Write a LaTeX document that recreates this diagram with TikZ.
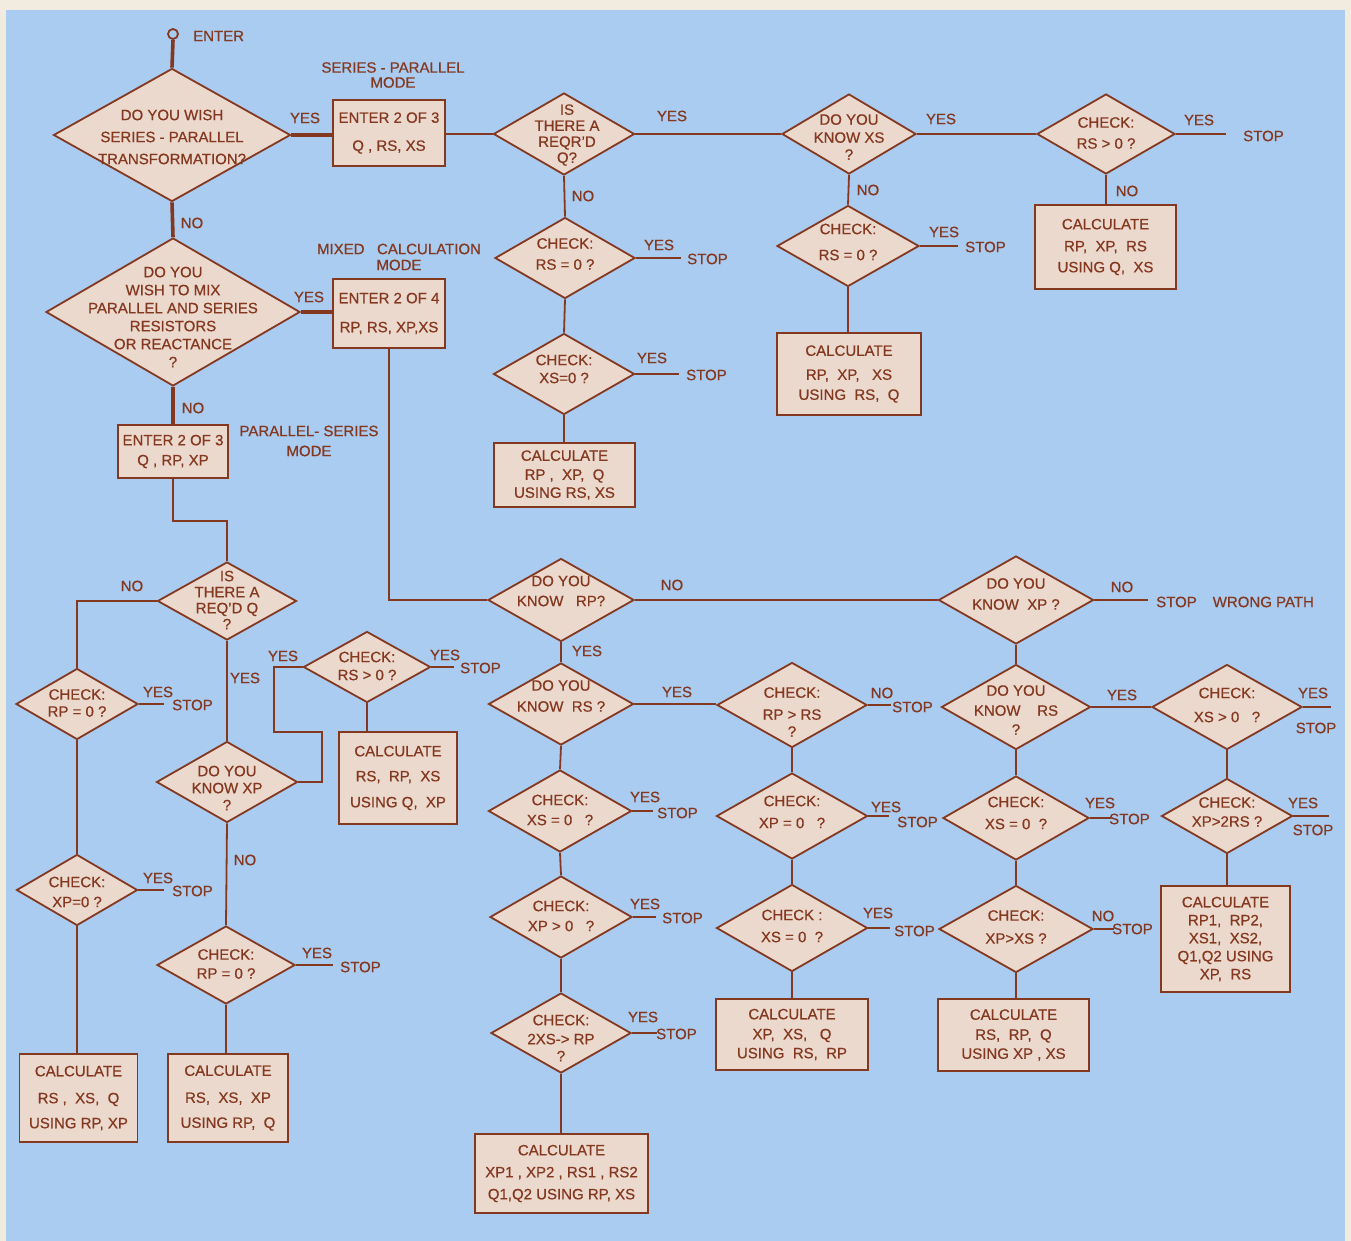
\documentclass[tikz,border=0pt]{standalone}
\usepackage{fontspec}
\setmainfont{Liberation Sans}[FakeBold=0.6]
\usetikzlibrary{shapes.geometric}
\definecolor{brn}{RGB}{132,56,32}
\definecolor{bluebg}{RGB}{170,204,240}
\definecolor{dfill}{RGB}{236,217,205}
\definecolor{paper}{RGB}{242,236,224}
\newcommand\lett{\fontsize{15}{19}\selectfont}
\tikzset{
  dia/.style 2 args={diamond, draw=brn, fill=dfill, line width=1.8pt, inner sep=0pt, minimum width=#1, minimum height=#2},
  dt/.style={text=brn, font=\lett, align=center, inner sep=0pt},
  box/.style 2 args={rectangle, draw=brn, fill=dfill, line width=1.8pt, inner sep=0pt, minimum width=#1, minimum height=#2, align=center, font=\lett, text=brn},
  lab/.style={text=brn, font=\lett, align=center, inner sep=0pt},
  conn/.style={draw=brn, line width=1.8pt},
  mainconn/.style={draw=brn, line width=3.6pt}
}
\begin{document}
\begin{tikzpicture}[x=1pt,y=-1pt]
\useasboundingbox (0,0) rectangle (1351,1241);
\fill[paper] (0,0) rectangle (1351,1241);
\fill[bluebg] (6,10) rectangle (1345,1241);

% ---------- entry ----------
\node[circle, draw=brn, line width=1.8pt, minimum size=10, inner sep=0pt] (c0) at (173,34) {};
\node[lab, anchor=west] (enter) at (193,36) {ENTER};

% ---------- diamonds ----------
\node[dia={237}{133}, label={[dt, yshift=-2pt]center:{DO YOU WISH\\[3pt]SERIES - PARALLEL\\[3pt]TRANSFORMATION?}}] (D1) at (172,135) {};
\node[dia={254}{148}, label={[dt, yshift=-5pt]center:{DO YOU\\[-1pt]WISH TO MIX\\[-1pt]PARALLEL AND SERIES\\[-1pt]RESISTORS\\[-1pt]OR REACTANCE\\[-1pt]?}}] (D8) at (173,312) {};
\node[dia={141}{82}, label={[dt, xshift=3pt, yshift=-1pt]center:{IS\\[-3pt]THERE A\\[-3pt]REQR'D\\[-3pt]Q?}}] (D2) at (564,134) {};
\node[dia={134}{80}, label={[dt, yshift=-3pt]center:{DO YOU\\[-1pt]KNOW XS\\[-2pt]?}}] (D3) at (849,134) {};
\node[dia={138}{80}, label={[dt, yshift=1pt]center:{CHECK:\\[2pt]RS > 0 ?}}] (D4) at (1106,134) {};
\node[dia={142}{81}, label={[dt, yshift=4pt]center:{CHECK:\\[7pt]RS = 0 ?}}] (D5) at (848,246) {};
\node[dia={140}{81}, label={[dt, yshift=4pt]center:{CHECK:\\[2pt]RS = 0 ?}}] (D6) at (565,258) {};
\node[dia={141}{81}, label={[dt, yshift=5pt]center:{CHECK:\\[-1pt]XS=0 ?}}] (D7) at (564,374) {};

\node[dia={139}{78}, label={[dt, yshift=1pt]center:{IS\\[-3pt]THERE A\\[-3pt]REQ'D Q\\[-3pt]?}}] (D10) at (227,601) {};
\node[dia={122}{71}, label={[dt, yshift=1pt]center:{CHECK:\\[-2pt]RP = 0 ?}}] (D11) at (77,704) {};
\node[dia={121}{71}, label={[dt, yshift=-2pt]center:{CHECK:\\[1pt]XP=0 ?}}] (D12) at (77,890) {};
\node[dia={141}{81}, label={[dt, yshift=-6pt]center:{DO YOU\\[-2pt]KNOW XP\\[-2pt]?}}] (D13) at (227,782) {};
\node[dia={127}{71}, label={[dt, yshift=1pt]center:{CHECK:\\[-1pt]RS > 0 ?}}] (D14) at (367,667) {};
\node[dia={138}{78}, label={[dt, yshift=1pt]center:{CHECK:\\[0pt]RP = 0 ?}}] (D15) at (226,965) {};

\node[dia={146}{83}, label={[dt, yshift=9pt]center:{DO YOU\\[1pt]KNOW~~ RP?}}] (D16) at (561,600) {};
\node[dia={145}{82}, label={[dt, yshift=8pt]center:{DO YOU\\[2pt]KNOW~ RS ?}}] (D18) at (561,704) {};
\node[dia={143}{82}, label={[dt, yshift=1pt]center:{CHECK:\\[1pt]XS = 0~~ ?}}] (D22) at (560,811) {};
\node[dia={142}{82}, label={[dt, yshift=1pt]center:{CHECK:\\[1pt]XP > 0~~ ?}}] (D23) at (561,917) {};
\node[dia={140}{80}, label={[dt, yshift=-5pt]center:{CHECK:\\[0pt]2XS-> RP\\[-2pt]?}}] (D24) at (561,1033) {};

\node[dia={150}{85}, label={[dt, yshift=-7pt]center:{CHECK:\\[3pt]RP > RS\\[-2pt]?}}] (D19) at (792,705) {};
\node[dia={151}{86}, label={[dt, yshift=4pt]center:{CHECK:\\[3pt]XP = 0~~ ?}}] (D20) at (792,816) {};
\node[dia={151}{87}, label={[dt, yshift=2pt]center:{CHECK :\\[3pt]XS = 0~ ?}}] (D21) at (792,928) {};

\node[dia={155}{88}, label={[dt, yshift=6pt]center:{DO YOU\\[2pt]KNOW~ XP ?}}] (D17) at (1016,600) {};
\node[dia={149}{85}, label={[dt, yshift=-3pt]center:{DO YOU\\[1pt]KNOW~~~ RS\\[0pt]?}}] (D25) at (1016,707) {};
\node[dia={146}{84}, label={[dt, yshift=5pt]center:{CHECK:\\[3pt]XS = 0~ ?}}] (D28) at (1016,818) {};
\node[dia={154}{87}, label={[dt, yshift=2pt]center:{CHECK:\\[4pt]XP>XS ?}}] (D29) at (1016,929) {};
\node[dia={150}{85}, label={[dt, yshift=2pt]center:{CHECK:\\[5pt]XS > 0~~ ?}}] (D26) at (1227,707) {};
\node[dia={131}{75}, label={[dt, yshift=4pt]center:{CHECK:\\[0pt]XP>2RS ?}}] (D27) at (1227,816) {};

% ---------- boxes ----------
\node[box={112}{66}] (B1) at (389,133) {ENTER 2 OF 3\\[9pt]Q , RS, XS};
\node[box={112}{69}] (B8) at (389,313.5) {ENTER 2 OF 4\\[10pt]RP, RS, XP,XS};
\node[box={110}{53}] (B9) at (173,451.5) {ENTER 2 OF 3\\[1pt]Q , RP, XP};
\node[box={141}{84}] (B4) at (1105.5,247) {CALCULATE\\[3pt]RP,~ XP,~ RS\\[2pt]USING Q,~ XS};
\node[box={144}{82}] (B5) at (849,374) {CALCULATE\\[5pt]RP,~ XP,~~ XS\\[1pt]USING~ RS,~ Q};
\node[box={141}{64}] (B7) at (564.5,475) {CALCULATE\\[0pt]RP ,~ XP,~ Q\\[-1pt]USING RS, XS};
\node[box={118}{88}] (B12) at (78.5,1098) {CALCULATE\\[8pt]RS ,~ XS,~ Q\\[6pt]USING RP, XP};
\node[box={120}{88}] (B15) at (228,1098) {CALCULATE\\[8pt]RS,~ XS,~ XP\\[6pt]USING RP,~ Q};
\node[box={118}{92}] (B14) at (398,778) {CALCULATE\\[6pt]RS,~ RP,~ XS\\[7pt]USING Q,~ XP};
\node[box={152}{71}] (B21) at (792,1034.5) {CALCULATE\\[1pt]XP,~ XS,~~ Q\\[0pt]USING~ RS,~ RP};
\node[box={173}{79}] (B24) at (561.5,1173.5) {CALCULATE\\[3pt]XP1 , XP2 , RS1 , RS2\\[3pt]Q1,Q2 USING RP, XS};
\node[box={129}{106}] (B27) at (1225.5,939) {CALCULATE\\[-1pt]RP1,~ RP2,\\[-1pt]XS1,~ XS2,\\[-1pt]Q1,Q2 USING\\[-1pt]XP,~ RS};
\node[box={151}{72}] (B29) at (1013.5,1035) {CALCULATE\\[1pt]RS,~ RP,~ Q\\[0pt]USING XP , XS};

% ---------- mode labels ----------
\node[lab] (m1) at (393,75) {SERIES - PARALLEL\\[-4pt]MODE};
\node[lab] (m2) at (399,257) {MIXED~~ CALCULATION\\[-3pt]MODE};
\node[lab] (m3) at (309,441) {PARALLEL- SERIES\\[1pt]MODE};

% ---------- YES / NO labels ----------
\node[lab] (y1) at (305,118) {YES};
\node[lab] (n1) at (192,223) {NO};
\node[lab] (y8) at (309,297) {YES};
\node[lab] (n8) at (193,408) {NO};
\node[lab] (y2) at (672,116) {YES};
\node[lab] (n2) at (583,196) {NO};
\node[lab] (y3) at (941,119) {YES};
\node[lab] (n3) at (868,190) {NO};
\node[lab] (y4) at (1199,120) {YES};
\node[lab] (n4) at (1127,191) {NO};
\node[lab] (y5) at (944,232) {YES};
\node[lab] (y6) at (659,245) {YES};
\node[lab] (y7) at (652,358) {YES};
\node[lab] (n10) at (132,586) {NO};
\node[lab] (y10) at (245,678) {YES};
\node[lab] (y13) at (283,656) {YES};
\node[lab] (y14) at (445,655) {YES};
\node[lab] (y11) at (158,692) {YES};
\node[lab] (y12) at (158,878) {YES};
\node[lab] (n13) at (245,860) {NO};
\node[lab] (y15) at (317,953) {YES};
\node[lab] (n16) at (672,585) {NO};
\node[lab] (y16) at (587,651) {YES};
\node[lab] (y18) at (677,692) {YES};
\node[lab] (n19) at (882,693) {NO};
\node[lab] (y20) at (886,807) {YES};
\node[lab] (y21) at (878,913) {YES};
\node[lab] (y22) at (645,797) {YES};
\node[lab] (y23) at (645,904) {YES};
\node[lab] (y24) at (643,1017) {YES};
\node[lab] (n17) at (1122,587) {NO};
\node[lab] (y25) at (1122,695) {YES};
\node[lab] (y26) at (1313,693) {YES};
\node[lab] (y27) at (1303,803) {YES};
\node[lab] (y28) at (1100,803) {YES};
\node[lab] (n29) at (1103,916) {NO};

% ---------- STOP labels ----------
\node[lab, anchor=west] (s4) at (1243,136) {STOP};
\node[lab, anchor=west] (s5) at (965,247) {STOP};
\node[lab, anchor=west] (s6) at (687,259) {STOP};
\node[lab, anchor=west] (s7) at (686,375) {STOP};
\node[lab, anchor=west] (s11) at (172,705) {STOP};
\node[lab, anchor=west] (s12) at (172,891) {STOP};
\node[lab, anchor=west] (s14) at (460,668) {STOP};
\node[lab, anchor=west] (s15) at (340,967) {STOP};
\node[lab, anchor=west] (s19) at (892,707) {STOP};
\node[lab, anchor=west] (s20) at (897,822) {STOP};
\node[lab, anchor=west] (s21) at (894,931) {STOP};
\node[lab, anchor=west] (s22) at (657,813) {STOP};
\node[lab, anchor=west] (s23) at (662,918) {STOP};
\node[lab, anchor=west] (s24) at (656,1034) {STOP};
\node[lab, anchor=west] (s17) at (1156,602) {STOP\hspace{16pt}WRONG PATH};
\node[lab] (s26) at (1316,728) {STOP};
\node[lab] (s27) at (1313,830) {STOP};
\node[lab, anchor=west] (s28) at (1109,819) {STOP};
\node[lab, anchor=west] (s29) at (1112,929) {STOP};

% ---------- corner coordinates ----------
\coordinate (k1) at (173,521);
\coordinate (k2) at (322,732);
\coordinate (k3) at (274,732);

% ---------- main connectors ----------
\draw[mainconn] (c0.south) -- (D1.north);
\draw[mainconn] (D1.east) -- (D1.east -| B1.west);
\draw[mainconn] (D1.south) -- (D8.north);
\draw[mainconn] (D8.east) -- (D8.east -| B8.west);
\draw[mainconn] (D8.south) -- (D8.south |- B9.north);

% ---------- series-parallel branch ----------
\draw[conn] (D2.west -| B1.east) -- (D2.west);
\draw[conn] (D2.east) -- (D2.east -| D3.west);
\draw[conn] (D3.east) -- (D3.east -| D4.west);
\draw[conn] (D4.east) -- ++(50,0);
\draw[conn] (D4.south) -- (D4.south |- B4.north);
\draw[conn] (D3.south) -- (D5.north);
\draw[conn] (D5.east) -- ++(38,0);
\draw[conn] (D5.south) -- (D5.south |- B5.north);
\draw[conn] (D2.south) -- (D6.north);
\draw[conn] (D6.east) -- ++(45,0);
\draw[conn] (D6.south) -- (D7.north);
\draw[conn] (D7.east) -- ++(44,0);
\draw[conn] (D7.south) -- (D7.south |- B7.north);

% ---------- parallel-series branch ----------
\draw[conn] (B9.south) -- (k1) -| (D10.north);
\draw[conn] (D10.west) -| (D11.north);
\draw[conn] (D11.east) -- ++(25,0);
\draw[conn] (D11.south) -- (D12.north);
\draw[conn] (D12.east) -- ++(26,0);
\draw[conn] (D12.south) -- (D12.south |- B12.north);
\draw[conn] (D10.south) -- (D13.north);
\draw[conn] (D13.east) -| (k2) -- (k3) |- (D14.west);
\draw[conn] (D14.east) -- ++(23,0);
\draw[conn] (D14.south) -- (D14.south |- B14.north);
\draw[conn] (D13.south) -- (D15.north);
\draw[conn] (D15.east) -- ++(37,0);
\draw[conn] (D15.south) -- (D15.south |- B15.north);

% ---------- mixed branch ----------
\draw[conn] (B8.south) |- (D16.west);
\draw[conn] (D16.east) -- (D17.west);
\draw[conn] (D17.east) -- ++(54,0);
\draw[conn] (D16.south) -- (D18.north);
\draw[conn] (D18.east) -- (D18.east -| D19.west);
\draw[conn] (D19.east) -- ++(23,0);
\draw[conn] (D19.south) -- (D20.north);
\draw[conn] (D20.east) -- ++(21,0);
\draw[conn] (D20.south) -- (D21.north);
\draw[conn] (D21.east) -- ++(22,0);
\draw[conn] (D21.south) -- (D21.south |- B21.north);
\draw[conn] (D18.south) -- (D22.north);
\draw[conn] (D22.east) -- ++(21,0);
\draw[conn] (D22.south) -- (D23.north);
\draw[conn] (D23.east) -- ++(23,0);
\draw[conn] (D23.south) -- (D24.north);
\draw[conn] (D24.east) -- ++(25,0);
\draw[conn] (D24.south) -- (D24.south |- B24.north);
\draw[conn] (D17.south) -- (D25.north);
\draw[conn] (D25.east) -- (D25.east -| D26.west);
\draw[conn] (D26.east) -- ++(28,0);
\draw[conn] (D26.south) -- (D27.north);
\draw[conn] (D27.east) -- ++(36,0);
\draw[conn] (D27.south) -- (D27.south |- B27.north);
\draw[conn] (D25.south) -- (D28.north);
\draw[conn] (D28.east) -- ++(21,0);
\draw[conn] (D28.south) -- (D29.north);
\draw[conn] (D29.east) -- ++(20,0);
\draw[conn] (D29.south) -- (D29.south |- B29.north);
\end{tikzpicture}
\end{document}
